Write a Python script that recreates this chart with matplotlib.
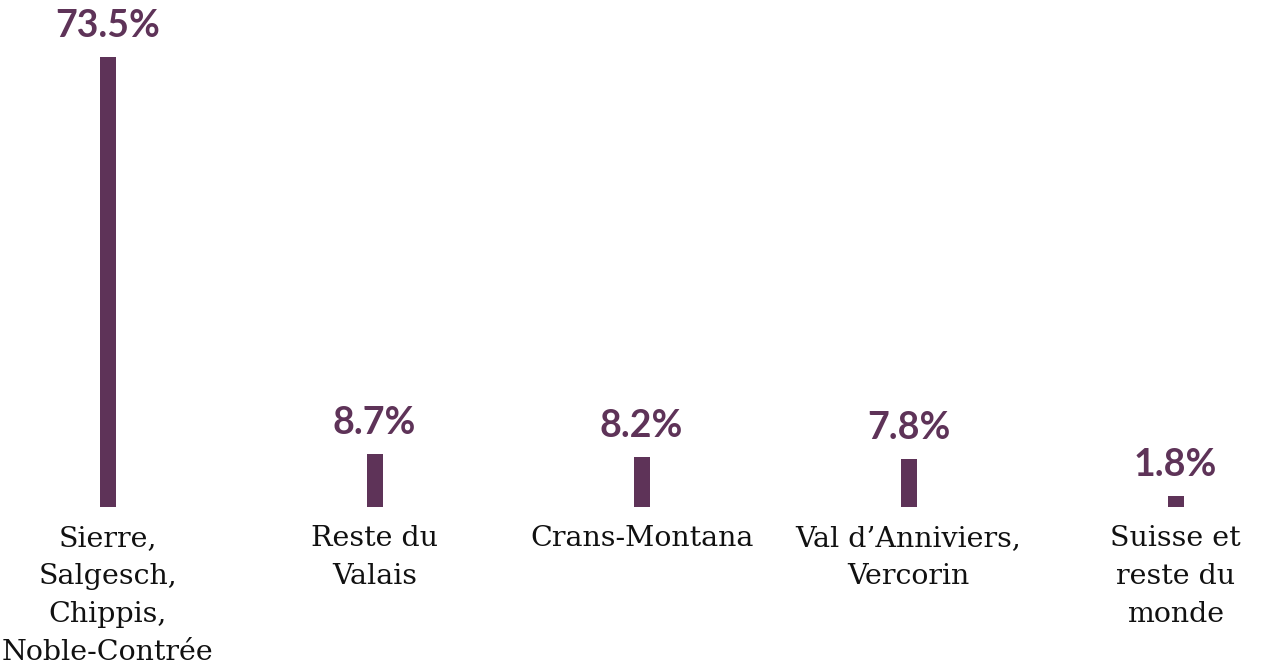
import matplotlib.pyplot as plt

# Data
categories = ["Sierre,\nSalgesch,\nChippis,\nNoble-Contrée",
              "Reste du\nValais",
              "Crans-Montana",
              "Val d\u2019Anniviers,\nVercorin",
              "Suisse et\nreste du\nmonde"]
shares = [73.5, 8.7, 8.2, 7.8, 1.8]
value_labels = ["73.5%", "8.7%", "8.2%", "7.8%", "1.8%"]

purple = "#5e3358"

fig = plt.figure(figsize=(12.64, 6.71), dpi=100)
# axes spans full width, bar base at ~y=507px, top of largest bar at ~y=57px
ax = fig.add_axes([0, 164 / 671, 1, 450 / 671])

x = list(range(len(categories)))
ax.bar(x, shares, width=0.06, color=purple)

ax.set_xlim(-0.403, 4.331)
ax.set_ylim(0, 73.5)
ax.axis("off")

for xi, v, lab, cat in zip(x, shares, value_labels, categories):
    # percent above each bar
    ax.annotate(lab, (xi, v), xytext=(0, 10), textcoords="offset points",
                ha="center", va="bottom", color=purple,
                fontsize=27, fontweight="bold", family="Lato",
                annotation_clip=False)
    # category name under each bar
    ax.annotate(cat, (xi, 0), xytext=(0, -13), textcoords="offset points",
                ha="center", va="top", color="#111111",
                fontsize=20.5, family="DejaVu Serif", linespacing=1.52,
                annotation_clip=False)

fig.savefig("out.png", dpi=100)
